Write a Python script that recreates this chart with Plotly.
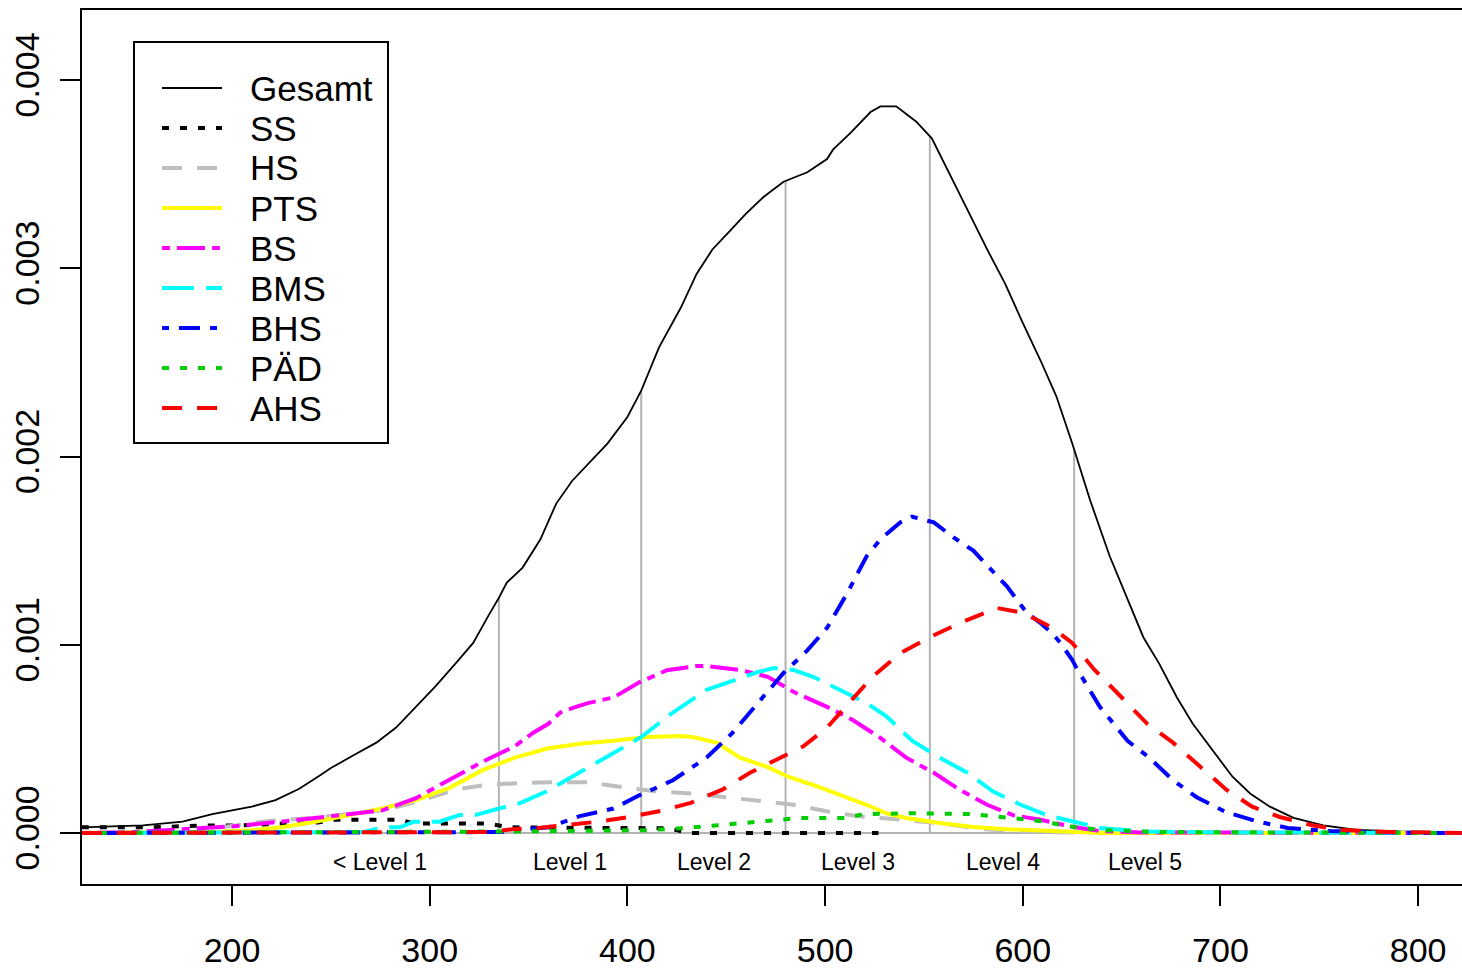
import numpy as np
import plotly.graph_objects as go

# ---------------- data ----------------
gesamt_x = [124, 140, 155, 175, 190, 200, 210, 222, 234, 245, 250, 261, 273, 283, 293, 303, 313, 322, 330, 335,
            339, 347, 356, 364, 372, 380, 390, 400, 407, 416, 427, 435, 443, 452, 460, 469, 479, 491, 501, 504,
            513, 523, 528, 536, 546, 554, 564, 574, 582, 591, 600, 609, 617, 625, 634, 644, 653, 661, 669, 678,
            686, 696, 706, 715, 725, 737, 752, 769, 790, 822]
gesamt_y = [0.00003, 0.000035, 0.00004, 0.00006, 0.0001, 0.00012, 0.00014, 0.000175, 0.000235, 0.00031, 0.000345,
            0.00041, 0.00048, 0.00056, 0.00067, 0.00078, 0.0009, 0.00101, 0.00116, 0.00125, 0.00133, 0.00141,
            0.00156, 0.00175, 0.00187, 0.00196, 0.00207, 0.00221, 0.00235, 0.00258, 0.00279, 0.00297, 0.0031,
            0.0032, 0.00329, 0.00338, 0.00346, 0.00351, 0.00358, 0.00363, 0.00372, 0.00383, 0.00386, 0.00386,
            0.00378, 0.00369, 0.00348, 0.00327, 0.0031, 0.00292, 0.00271, 0.00251, 0.00232, 0.00207, 0.00177,
            0.00147, 0.00124, 0.00104, 0.0009, 0.00072, 0.00058, 0.00044, 0.0003, 0.00021, 0.00014, 0.00008,
            0.00004, 0.000016, 0.000008, 0.000005]

ss_x = [124, 160, 185, 205, 225, 240, 252, 270, 285, 292, 330, 340, 380, 420, 425, 430, 527]
ss_y = [0.00003, 0.00003, 0.00004, 0.00004, 0.00005, 0.00005, 0.00007, 0.00007, 0.00007, 0.00005, 0.00005,
        0.00003, 0.00003, 0.000025, 0.000015, 0.0, 0.0]

hs_x = [124, 180, 195, 215, 240, 260, 276, 295, 313, 328, 345, 365, 380, 400, 416, 433, 450, 468, 484, 500,
        516, 535, 557, 580, 610, 650, 822]
hs_y = [0.0, 0.0, 0.00003, 0.00006, 0.00008, 0.0001, 0.00012, 0.00017, 0.00023, 0.000255, 0.000265, 0.00027,
        0.00027, 0.00024, 0.00022, 0.00021, 0.00019, 0.00017, 0.00015, 0.000117, 0.00009, 0.000074, 0.000053,
        0.00002, 0.000005, 0.0, 0.0]

pts_x = [124, 190, 210, 225, 242, 259, 276, 293, 310, 327, 343, 360, 377, 393, 410, 427, 433, 445, 457, 471,
         481, 494, 508, 521, 531, 541, 558, 575, 592, 617, 640, 822]
pts_y = [0.0, 0.000005, 0.000015, 0.00003, 0.00006, 0.000095, 0.00013, 0.000175, 0.00024, 0.000335, 0.0004,
         0.00045, 0.000475, 0.00049, 0.00051, 0.000515, 0.00051, 0.00048, 0.0004, 0.00035, 0.0003, 0.000255,
         0.0002, 0.00015, 0.000105, 0.00008, 0.000053, 0.000032, 0.00002, 0.00001, 0.0, 0.0]

bs_x = [124, 150, 183, 200, 225, 242, 259, 276, 293, 310, 327, 343, 352, 360, 366, 374, 380, 393, 406, 420,
        435, 440, 457, 471, 484, 501, 514, 528, 541, 555, 568, 582, 595, 609, 625, 639, 660, 822]
bs_y = [0.0, 0.000005, 0.000025, 0.000035, 0.00006, 0.00008, 0.000095, 0.00012, 0.000185, 0.00028, 0.00038,
        0.00046, 0.00053, 0.00058, 0.00064, 0.00067, 0.00069, 0.00072, 0.0008, 0.000865, 0.000887, 0.000887,
        0.000866, 0.00083, 0.00075, 0.00067, 0.0006, 0.000505, 0.0004, 0.00032, 0.00023, 0.00015, 0.000095,
        0.00007, 0.000033, 0.00001, 0.000003, 0.0]

bms_x = [124, 225, 267, 276, 285, 292, 305, 315, 323, 335, 346, 359, 376, 393, 407, 423, 440, 453, 466, 474,
         484, 494, 508, 521, 531, 544, 558, 572, 585, 599, 612, 625, 639, 660, 700, 822]
bms_y = [0.0, 0.000005, 0.000005, 0.00003, 0.00003, 0.00006, 0.00006, 0.000095, 0.000095, 0.00013, 0.00016,
         0.00022, 0.00032, 0.000425, 0.00051, 0.00064, 0.00076, 0.00081, 0.000855, 0.000876, 0.000866, 0.00083,
         0.00076, 0.00069, 0.00062, 0.00049, 0.0004, 0.00032, 0.00022, 0.00015, 0.000095, 0.00006, 0.000027,
         0.000008, 0.000003, 0.0]

bhs_x = [124, 340, 350, 360, 376, 393, 406, 415, 423, 440, 453, 466, 479, 491, 501, 511, 521, 528, 538, 544,
         555, 565, 575, 583, 592, 602, 609, 615, 619, 625, 627, 639, 653, 664, 676, 688, 703, 719, 734, 755,
         777, 800, 822]
bhs_y = [0.0, 0.000005, 0.00002, 0.00003, 0.00009, 0.00013, 0.0002, 0.00024, 0.00028, 0.0004, 0.00053, 0.00069,
         0.00085, 0.00097, 0.00109, 0.00127, 0.00147, 0.00156, 0.00165, 0.00168, 0.00165, 0.00157, 0.0015,
         0.00141, 0.00131, 0.00117, 0.001115, 0.00106, 0.00101, 0.00092, 0.00088, 0.00067, 0.00049, 0.0004,
         0.00028, 0.00019, 0.00011, 0.00006, 0.000027, 0.00001, 0.000005, 0.0, 0.0]

paed_x = [124, 300, 340, 410, 427, 450, 469, 477, 486, 511, 519, 545, 575, 588, 600, 612, 620, 640, 670, 822]
paed_y = [0.0, 0.000003, 0.000008, 0.000015, 0.000025, 0.000045, 0.00006, 0.00007, 0.00008, 0.00008, 0.0001,
          0.000105, 0.0001, 0.000085, 0.00007, 0.00006, 0.00004, 0.000015, 0.000005, 0.0]

ahs_x = [124, 330, 342, 354, 367, 385, 401, 418, 432, 448, 462, 477, 489, 501, 514, 524, 538, 553, 568, 587,
         600, 615, 625, 636, 651, 663, 676, 690, 703, 716, 730, 747, 761, 786, 822]
ahs_y = [0.0, 0.000005, 0.00002, 0.000025, 0.00004, 0.00006, 0.000085, 0.00012, 0.00016, 0.00023, 0.00032,
         0.0004, 0.00046, 0.00056, 0.00071, 0.00083, 0.000955, 0.00104, 0.001115, 0.001195, 0.00117, 0.00109,
         0.00101, 0.00087, 0.00071, 0.00058, 0.00048, 0.00035, 0.00023, 0.00014, 0.000085, 0.00004, 0.000016,
         0.000005, 0.0]

cut_scores = [335, 407, 480, 553, 626]
level_labels = ["< Level 1", "Level 1", "Level 2", "Level 3", "Level 4", "Level 5"]
level_label_x = [275, 371, 444, 516.5, 590, 662]

x_ticks = [200, 300, 400, 500, 600, 700, 800]
y_ticks = [0.0, 0.001, 0.002, 0.003, 0.004]
y_ticktext = ["0.000", "0.001", "0.002", "0.003", "0.004"]

# ---------------- styling ----------------
FONT = "Liberation Sans, Arial, sans-serif"
series = [
    ("Gesamt", gesamt_x, gesamt_y, "#000000", "solid", 1.8),
    ("SS", ss_x, ss_y, "#000000", "7px,11px", 4),
    ("HS", hs_x, hs_y, "#bebebe", "20px,15px", 4),
    ("PTS", pts_x, pts_y, "#ffff00", "solid", 4),
    ("BS", bs_x, bs_y, "#ff00ff", "8px,7px,28px,7px", 4),
    ("BMS", bms_x, bms_y, "#00ffff", "32px,12px", 4),
    ("BHS", bhs_x, bhs_y, "#0000ff", "7px,10px,21px,10px", 4),
    ("PÄD", paed_x, paed_y, "#00cd00", "7px,11px", 4),
    ("AHS", ahs_x, ahs_y, "#ff0000", "20px,15px", 4),
]

fig = go.Figure()

# zero baseline
fig.add_trace(go.Scatter(x=[124, 822], y=[0, 0], mode="lines",
                         line=dict(color="#b3b3b3", width=2), showlegend=False, hoverinfo="skip"))

# vertical cut lines up to the total density
cut_h = np.interp(cut_scores, gesamt_x, gesamt_y)
vx, vy = [], []
for c, h in zip(cut_scores, cut_h):
    vx += [c, c, None]
    vy += [0, h, None]
fig.add_trace(go.Scatter(x=vx, y=vy, mode="lines", line=dict(color="#b3b3b3", width=2),
                         showlegend=False, hoverinfo="skip"))

for name, xs, ys, col, dash, w in series:
    fig.add_trace(go.Scatter(x=xs, y=ys, mode="lines", name=name,
                             line=dict(color=col, dash=dash, width=w), showlegend=False))

# level labels
for lx, lt in zip(level_label_x, level_labels):
    fig.add_annotation(x=lx, y=-0.000154, text=lt, showarrow=False,
                       font=dict(family=FONT, size=23, color="black"), xanchor="center", yanchor="middle")

# manual legend (R style)
W, H, L, T = 1380.0, 874.0, 82.0, 10.0
def px(x):
    return (x - L) / W
def py(y):
    return (T + H - y) / H

fig.add_shape(type="rect", xref="paper", yref="paper", x0=px(134), x1=px(388), y0=py(443), y1=py(42),
              line=dict(color="black", width=2), fillcolor="white", layer="above")
row_y = [88, 128, 168, 208, 248, 288, 328, 368, 408]
for (name, xs, ys, col, dash, w), ry in zip(series, row_y):
    fig.add_shape(type="line", xref="paper", yref="paper", x0=px(162), x1=px(222), y0=py(ry), y1=py(ry),
                  line=dict(color=col, dash=dash, width=w), layer="above")
    fig.add_annotation(xref="paper", yref="paper", x=px(248), y=py(ry), text=name, showarrow=False,
                       xanchor="left", yanchor="middle", font=dict(family=FONT, size=35, color="black"))

fig.update_layout(
    width=1462, height=968,
    margin=dict(l=82, r=0, t=10, b=84),
    paper_bgcolor="white", plot_bgcolor="white",
    font=dict(family=FONT, color="black"),
    showlegend=False,
)
fig.update_xaxes(range=[124.1, 822.2], tickvals=x_ticks, ticks="outside", ticklen=20, tickwidth=2,
                 tickcolor="black", showline=True, linecolor="black", linewidth=2, mirror=True,
                 showgrid=False, zeroline=False, tickfont=dict(family=FONT, size=34),
                 ticklabelstandoff=15, automargin=False)
fig.update_yaxes(range=[-0.000271, 0.004372], tickvals=y_ticks, ticktext=y_ticktext, ticks="outside",
                 ticklen=20, tickwidth=2, tickcolor="black", showline=True, linecolor="black", linewidth=2,
                 mirror=False, showgrid=False, zeroline=False, tickangle=-90,
                 tickfont=dict(family=FONT, size=34), ticklabelstandoff=7, automargin=False)

fig.write_html("out.html")
